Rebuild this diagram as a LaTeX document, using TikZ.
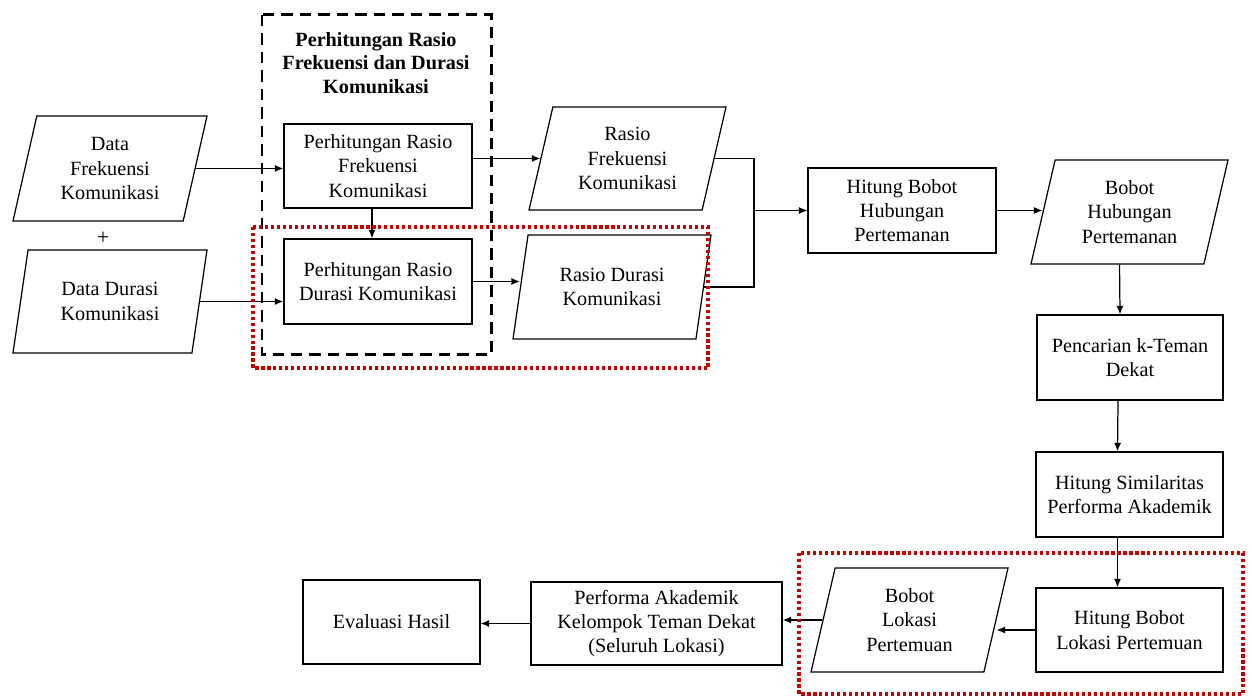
\documentclass[tikz,border=0pt]{standalone}
\usepackage{fontspec}
\setmainfont{Liberation Serif}
\usetikzlibrary{arrows.meta}
\usetikzlibrary{shapes.geometric}
\definecolor{merah}{HTML}{C00000}
\tikzset{>={Latex[length=1.7mm, width=1.4mm]},
         proses/.style = {draw, fill=white, line width=0.7pt, align=center,
                          minimum width=3.76cm, minimum height=1.68cm, inner sep=2pt,
                          font=\fontsize{11.5}{13.8}\selectfont},
         dataio/.style = {trapezium, trapezium left angle=70, trapezium right angle=110,
                          trapezium stretches body, draw, fill=white, line width=0.7pt,
                          align=center, minimum width=3.94cm, minimum height=2.08cm,
                          inner sep=1pt, font=\fontsize{11.5}{13.8}\selectfont},
         alur/.style = {->, line width=0.7pt},
         kelompok/.style = {line width=1.7pt, dash pattern=on 6.5pt off 4pt},
         sorot/.style = {merah, line width=1.8pt, dash pattern=on 1.8pt off 1.6pt}}

\begin{document}
\begin{tikzpicture}
      \useasboundingbox (0, 0) rectangle (25.04, 13.92);

      \node [dataio, minimum width=3.88cm, minimum height=2.1cm] (dfrek) at (2.2, 10.55) {Data\\Frekuensi\\Komunikasi};
      \node [dataio, minimum width=3.88cm, minimum height=2.06cm] (ddur) at (2.2, 7.89) {Data Durasi\\Komunikasi};
      \node [font=\fontsize{12.5}{14}\selectfont] (plus) at (2.06, 9.16) {+};

      \node [align=center, font=\fontsize{11.5}{13.4}\selectfont\bfseries] (judul) at (7.52, 12.66) {Perhitungan Rasio\\Frekuensi dan Durasi\\Komunikasi};
      \node [proses] (prfrek) at (7.56, 10.6) {Perhitungan Rasio\\Frekuensi\\Komunikasi};
      \node [proses, minimum height=1.7cm] (prdur) at (7.56, 8.29) {Perhitungan Rasio\\Durasi Komunikasi};

      \node [dataio, minimum height=2.06cm] (rfrek) at (12.55, 10.75) {Rasio\\Frekuensi\\Komunikasi};
      \node [dataio, minimum width=3.96cm] (rdur) at (12.24, 8.18) {Rasio Durasi\\Komunikasi};
      \coordinate (gabung) at (15.08, 9.71);

      \node [proses, minimum height=1.7cm] (hbhub) at (18.04, 9.71) {Hitung Bobot\\Hubungan\\Pertemanan};
      \node [dataio] (bhub) at (22.59, 9.68) {Bobot\\Hubungan\\Pertemanan};
      \node [proses, minimum width=3.72cm, minimum height=1.7cm] (kteman) at (22.6, 6.77) {Pencarian k-Teman\\Dekat};
      \node [proses, minimum width=3.74cm, minimum height=1.7cm] (simil) at (22.59, 4.03) {Hitung Similaritas\\Performa Akademik};
      \node [proses, minimum width=3.74cm] (hblok) at (22.59, 1.32) {Hitung Bobot\\Lokasi Pertemuan};
      \node [dataio] (blok) at (18.19, 1.52) {Bobot\\Lokasi\\Pertemuan};
      \node [proses, minimum width=5.02cm, minimum height=1.66cm] (perf) at (13.13, 1.45) {Performa Akademik\\Kelompok Teman Dekat\\(Seluruh Lokasi)};
      \node [proses, minimum width=3.54cm] (evhasil) at (7.83, 1.48) {Evaluasi Hasil};

      \draw [alur] (dfrek.east) -- (dfrek.east -| prfrek.west);
      \draw [alur] (ddur.east) -- (ddur.east -| prdur.west);
      \draw [alur] ([xshift=-0.12cm]prfrek.south) -- ([xshift=-0.12cm]prdur.north);
      \draw [alur] (prfrek.east |- rfrek.west) -- (rfrek.west);
      \draw [alur] (prdur.east) -- (prdur.east -| rdur.west);
      \draw [line width=0.8pt] (rfrek.east) -| (gabung |- rdur.east) -- (rdur.east);
      \draw [alur] (gabung) -- (hbhub.west);
      \draw [alur] (hbhub.east) -- (hbhub.east -| bhub.west);
      \draw [alur] ([xshift=-0.2cm]bhub.south) -- ([xshift=-0.2cm]kteman.north);
      \draw [alur] ([xshift=-0.24cm]kteman.south) -- ([xshift=-0.24cm]simil.north);
      \draw [alur] ([xshift=-0.24cm]simil.south) -- ([xshift=-0.24cm]hblok.north);
      \draw [alur] (hblok.west) -- (hblok.west -| blok.east);
      \draw [alur] (blok.west) -- (blok.west -| perf.east);
      \draw [alur] (perf.west) -- (perf.west -| evhasil.east);

      \draw [kelompok] (5.24, 13.62) rectangle (9.82, 6.82);
      \draw [sorot] (5.06, 9.38) rectangle (14.16, 6.56);
      \draw [sorot] (15.98, 2.86) rectangle (24.86, 0.04);
    \end{tikzpicture}
\end{document}
